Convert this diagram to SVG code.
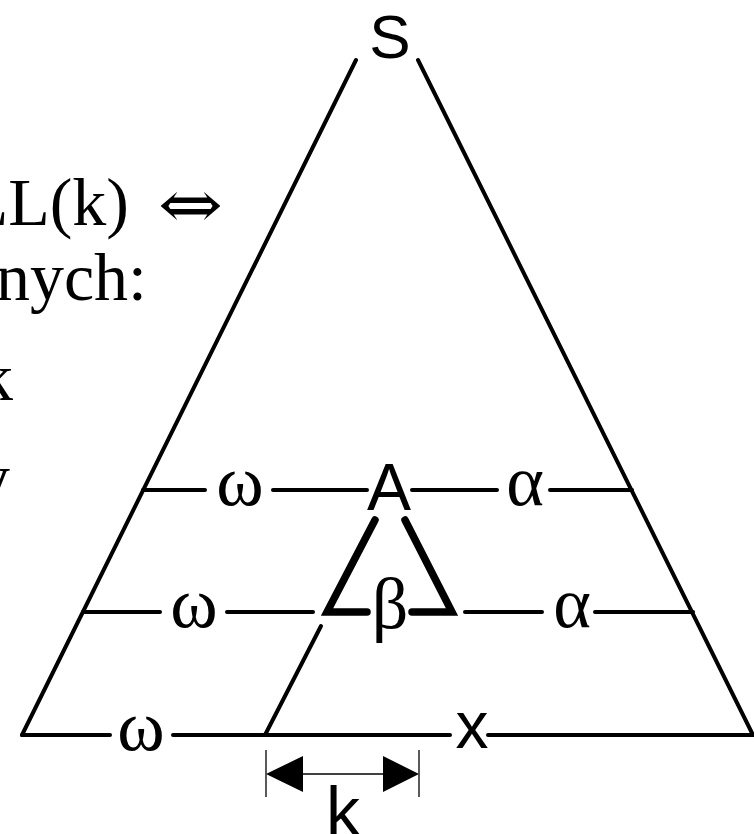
<svg xmlns="http://www.w3.org/2000/svg" width="754" height="834" viewBox="0 0 754 834">
<style>
.ln{stroke:#000;stroke-width:4;stroke-linecap:round;fill:none}
.thk{stroke:#000;stroke-width:7.5;stroke-linecap:round;stroke-linejoin:miter;fill:none}
.thin{stroke:#000;stroke-width:1.3;fill:none}
.sans{font-family:"Liberation Sans",Arial,sans-serif;fill:#000;text-anchor:middle}
.gr{font-family:"Liberation Serif","Times New Roman",serif;font-size:72px;fill:#000;text-anchor:middle}
.tx{font-family:"Liberation Serif","Times New Roman","DejaVu Serif",serif;font-size:68px;fill:#000}
</style>
<rect width="754" height="834" fill="#fff"/>
<g id="left-text">
<text class="tx" x="129" y="225" text-anchor="end">LL(k)</text>
<text class="tx" x="158" y="228" font-size="62" textLength="65" lengthAdjust="spacingAndGlyphs" style="font-family:'DejaVu Serif','Liberation Serif',serif">⇔</text>
<text class="tx" x="147" y="300" text-anchor="end">nych:</text>
<text class="tx" x="13" y="400" text-anchor="end">k</text>
<text class="tx" x="10" y="501" text-anchor="end">y</text>
</g>
<g id="connectors">
<line class="ln" x1="356" y1="60" x2="22" y2="735"/>
<line class="ln" x1="418" y1="60" x2="753" y2="735"/>
<line class="ln" x1="143" y1="490" x2="205" y2="490"/>
<line class="ln" x1="273" y1="490" x2="367" y2="490"/>
<line class="ln" x1="412" y1="490" x2="497" y2="490"/>
<line class="ln" x1="550" y1="490" x2="632" y2="490"/>
<line class="ln" x1="83" y1="612" x2="160" y2="612"/>
<line class="ln" x1="227" y1="612" x2="313" y2="612"/>
<line class="ln" x1="465" y1="612" x2="542" y2="612"/>
<line class="ln" x1="595" y1="612" x2="693" y2="612"/>
<line class="ln" x1="22" y1="735" x2="110" y2="735"/>
<line class="ln" x1="173" y1="735" x2="450" y2="735"/>
<line class="ln" x1="488" y1="735" x2="753" y2="735"/>
<line class="ln" x1="265" y1="735" x2="321" y2="626"/>
<polyline class="thk" points="375,520 327,612 367,612"/>
<polyline class="thk" points="405,520 452,612 412,612"/>
</g>
<g id="dimension">
<line class="thin" x1="266" y1="750" x2="266" y2="797"/>
<line class="thin" x1="419" y1="750" x2="419" y2="797"/>
<line class="thin" x1="300" y1="774" x2="386" y2="774"/>
<polygon points="266,774 303,756 303,792" fill="#000"/>
<polygon points="419,774 383,756 383,792" fill="#000"/>
</g>
<g id="node-S"><text class="sans" x="390" y="58" font-size="62">S</text></g>
<g id="node-A"><text class="sans" x="389" y="510" font-size="66">A</text></g>
<g id="node-x"><text class="sans" x="472" y="748" font-size="66">x</text></g>
<g id="node-k"><text class="sans" x="343" y="835" font-size="68">k</text></g>
<g id="labels">
<text class="gr" x="240" y="505">ω</text>
<text class="gr" x="525" y="505">α</text>
<text class="gr" x="194" y="627">ω</text>
<text class="gr" x="390" y="628" font-size="66">β</text>
<text class="gr" x="572" y="627">α</text>
<text class="gr" x="141" y="750">ω</text>
</g>
</svg>
